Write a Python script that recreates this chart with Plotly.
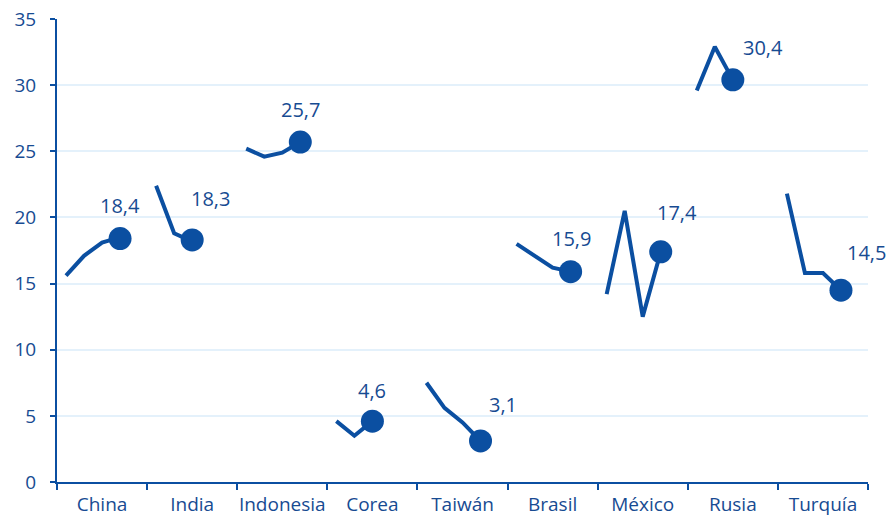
import plotly.graph_objects as go

# Countries shown along the x axis
categories = ["China", "India", "Indonesia", "Corea", "Taiwán",
              "Brasil", "México", "Rusia", "Turquía"]

# Period index of each observation inside its country slot
periods = [
    [0, 2, 4, 5, 6],
    [0, 2, 3, 4],
    [0, 2, 4, 6],
    [0, 2, 4],
    [0, 2, 4, 6],
    [0, 2, 4, 6],
    [0, 2, 4, 6],
    [0, 2, 4],
    [0, 2, 4, 6],
]

# Observed values per country (last one is the latest, highlighted)
values = [
    [15.6, 17.1, 18.1, 18.3, 18.4],
    [22.4, 18.8, 18.5, 18.3],
    [25.2, 24.6, 24.9, 25.7],
    [4.6, 3.5, 4.6],
    [7.5, 5.6, 4.5, 3.1],
    [18.0, 17.1, 16.2, 15.9],
    [14.2, 20.5, 12.5, 17.4],
    [29.6, 32.9, 30.4],
    [21.8, 15.8, 15.8, 14.5],
]

y_ticks = [0, 5, 10, 15, 20, 25, 30, 35]

# Pixel offsets of each value label relative to its highlighted point
label_shift = [(0, 33), (18, 41), (0, 33), (0, 31), (22, 36),
               (1, 33), (16, 39), (30, 32), (26, 38)]

BLUE = "#0b4fa1"
TEXT = "#174b92"
GRID = "#e4f1fb"
FONT = "Open Sans"


def slot_x(i, p):
    return i + 0.1 + 0.1 * p


fig = go.Figure()
annotations = []
for i, (cat, per, vals) in enumerate(zip(categories, periods, values)):
    xs = [slot_x(i, p) for p in per]
    fig.add_trace(go.Scatter(
        x=xs, y=vals, mode="lines",
        line=dict(color=BLUE, width=4),
        hoverinfo="skip", showlegend=False, cliponaxis=False,
    ))
    fig.add_trace(go.Scatter(
        x=[xs[-1]], y=[vals[-1]], mode="markers",
        marker=dict(color=BLUE, size=23, line=dict(width=0)),
        name=cat, showlegend=False, cliponaxis=False,
    ))
    dx, dy = label_shift[i]
    annotations.append(dict(
        x=xs[-1], y=vals[-1], xref="x", yref="y",
        text=f"{vals[-1]:.1f}".replace(".", ","),
        showarrow=False, xshift=dx, yshift=dy,
        font=dict(family=FONT, size=20, color=TEXT),
    ))

fig.update_layout(
    width=891, height=516,
    margin=dict(l=57, r=23, t=19, b=34),
    paper_bgcolor="white", plot_bgcolor="white",
    font=dict(family=FONT, size=19, color=TEXT),
    annotations=annotations,
    xaxis=dict(
        range=[0, len(categories)],
        tickmode="array",
        tickvals=[i + 0.5 for i in range(len(categories))],
        ticktext=categories,
        ticks="",
        showgrid=False, zeroline=False,
        showline=True, linecolor=BLUE, linewidth=2,
        minor=dict(tickmode="array", tickvals=list(range(len(categories) + 1)),
                   ticks="outside", ticklen=6, tickwidth=2, tickcolor=BLUE,
                   showgrid=False),
        tickfont=dict(family=FONT, size=19, color=TEXT),
        ticklabelstandoff=4,
        automargin=False,
    ),
    yaxis=dict(
        range=[0, 35],
        tickmode="array", tickvals=y_ticks,
        ticks="outside", ticklen=5, tickwidth=2, tickcolor=BLUE,
        showgrid=True, gridcolor=GRID, gridwidth=1.5,
        zeroline=False,
        showline=True, linecolor=BLUE, linewidth=2,
        tickfont=dict(family=FONT, size=19, color=TEXT),
        ticklabelstandoff=10,
        automargin=False,
    ),
)

fig.write_html("out.html")
